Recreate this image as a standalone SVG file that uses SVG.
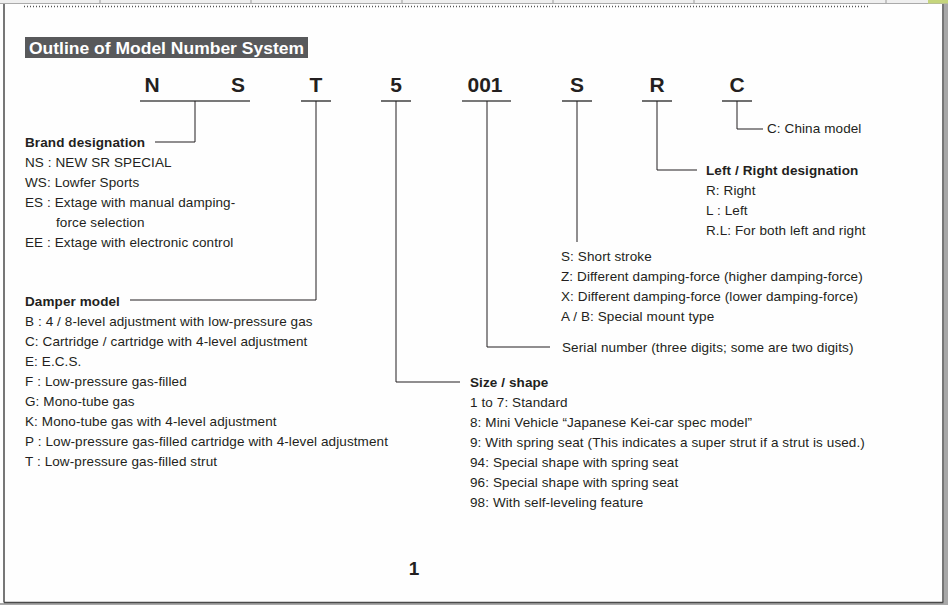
<svg xmlns="http://www.w3.org/2000/svg" width="948" height="605" viewBox="0 0 948 605">
<style>
.t{font-family:"Liberation Sans",Arial,sans-serif;font-size:13.5px;letter-spacing:0.1px;fill:#231f20}
.b{font-weight:bold}
.big{font-family:"Liberation Sans",Arial,sans-serif;font-size:21px;font-weight:bold;fill:#231f20;text-anchor:middle}
.ul{stroke:#4d4d4d;stroke-width:1.6;fill:none}
.c{stroke:#231f20;stroke-width:1;fill:none}
.tick{stroke:#999;stroke-width:1}
</style>
<rect x="0" y="0" width="948" height="605" fill="#fefefe"/>
<g id="page-frame">
<rect x="0" y="0" width="948" height="3.5" fill="#efefef"/>
<line x1="0" y1="3.5" x2="948" y2="3.5" stroke="#aaa" stroke-width="1"/>
<rect x="928" y="0" width="20" height="3.5" fill="#c5d57c"/>
<g class="tick">
<line x1="100" y1="0" x2="100" y2="3"/><line x1="251" y1="0" x2="251" y2="3"/><line x1="402" y1="0" x2="402" y2="3"/><line x1="553" y1="0" x2="553" y2="3"/><line x1="694" y1="0" x2="694" y2="3"/><line x1="886" y1="0" x2="886" y2="3"/>
</g>
<line x1="24" y1="6.5" x2="869" y2="6.5" stroke="#555" stroke-width="1.3" stroke-dasharray="1,2"/>
<rect x="944" y="4" width="4" height="601" fill="#a8a8a8"/>
<rect x="0" y="603" width="948" height="2" fill="#a8a8a8"/>
<line x1="4" y1="4" x2="4" y2="602.5" stroke="#4a4a4a" stroke-width="1.5"/>
<line x1="943" y1="4" x2="943" y2="602.5" stroke="#4a4a4a" stroke-width="1.5"/>
<line x1="4" y1="602.5" x2="943.5" y2="602.5" stroke="#4a4a4a" stroke-width="1.5"/>
</g>
<g id="title">
<rect x="25" y="37" width="283" height="21" fill="#58595b"/>
<text x="29" y="53.5" class="t b" style="font-size:16.5px;fill:#fff;letter-spacing:0" textLength="275" lengthAdjust="spacingAndGlyphs">Outline of Model Number System</text>
</g>
<g id="seg-NS">
<text x="152" y="92" class="big">N</text><text x="238" y="92" class="big">S</text>
<line x1="140" y1="101" x2="250" y2="101" class="ul"/>
</g>
<g id="seg-T"><text x="316" y="92" class="big">T</text><line x1="301" y1="101" x2="331" y2="101" class="ul"/></g>
<g id="seg-5"><text x="396" y="92" class="big">5</text><line x1="381" y1="101" x2="411" y2="101" class="ul"/></g>
<g id="seg-001"><text x="485" y="92" class="big">001</text><line x1="462" y1="101" x2="511" y2="101" class="ul"/></g>
<g id="seg-S"><text x="577" y="92" class="big">S</text><line x1="562" y1="101" x2="592" y2="101" class="ul"/></g>
<g id="seg-R"><text x="657" y="92" class="big">R</text><line x1="642" y1="101" x2="672" y2="101" class="ul"/></g>
<g id="seg-C"><text x="737" y="92" class="big">C</text><line x1="722" y1="101" x2="752" y2="101" class="ul"/></g>
<g id="connectors">
<polyline class="c" points="195,101 195,142 155,142"/>
<polyline class="c" points="316,101 316,300 130,300"/>
<polyline class="c" points="396,101 396,382 460,382"/>
<polyline class="c" points="487,101 487,347 550,347"/>
<polyline class="c" points="577,101 577,242"/>
<polyline class="c" points="657,101 657,170 697,170"/>
<polyline class="c" points="737,101 737,129 763,129"/>
</g>
<g id="brand">
<text x="25" y="147" class="t b">Brand designation</text>
<text x="25" y="167" class="t">NS : NEW SR SPECIAL</text>
<text x="25" y="187" class="t">WS: Lowfer Sports</text>
<text x="25" y="207" class="t">ES : Extage with manual damping-</text>
<text x="56" y="227" class="t">force selection</text>
<text x="25" y="247" class="t">EE : Extage with electronic control</text>
</g>
<g id="damper">
<text x="25" y="306" class="t b">Damper model</text>
<text x="25" y="326" class="t">B : 4 / 8-level adjustment with low-pressure gas</text>
<text x="25" y="346" class="t">C: Cartridge / cartridge with 4-level adjustment</text>
<text x="25" y="366" class="t">E: E.C.S.</text>
<text x="25" y="386" class="t">F : Low-pressure gas-filled</text>
<text x="25" y="406" class="t">G: Mono-tube gas</text>
<text x="25" y="426" class="t">K: Mono-tube gas with 4-level adjustment</text>
<text x="25" y="446" class="t">P : Low-pressure gas-filled cartridge with 4-level adjustment</text>
<text x="25" y="466" class="t">T : Low-pressure gas-filled strut</text>
</g>
<g id="size">
<text x="470" y="387" class="t b">Size / shape</text>
<text x="470" y="407" class="t">1 to 7: Standard</text>
<text x="470" y="427" class="t">8: Mini Vehicle “Japanese Kei-car spec model”</text>
<text x="470" y="447" class="t">9: With spring seat (This indicates a super strut if a strut is used.)</text>
<text x="470" y="467" class="t">94: Special shape with spring seat</text>
<text x="470" y="487" class="t">96: Special shape with spring seat</text>
<text x="470" y="507" class="t">98: With self-leveling feature</text>
</g>
<g id="serial"><text x="562" y="352" class="t">Serial number (three digits; some are two digits)</text></g>
<g id="stroke">
<text x="561" y="261" class="t">S: Short stroke</text>
<text x="561" y="281" class="t">Z: Different damping-force (higher damping-force)</text>
<text x="561" y="301" class="t">X: Different damping-force (lower damping-force)</text>
<text x="561" y="321" class="t">A / B: Special mount type</text>
</g>
<g id="leftright">
<text x="706" y="175" class="t b">Left / Right designation</text>
<text x="706" y="195" class="t">R: Right</text>
<text x="706" y="215" class="t">L : Left</text>
<text x="706" y="235" class="t">R.L: For both left and right</text>
</g>
<g id="china"><text x="767" y="133" class="t">C: China model</text></g>
<g id="page-number"><text x="414" y="575" class="big" style="font-size:19px">1</text></g>
</svg>
